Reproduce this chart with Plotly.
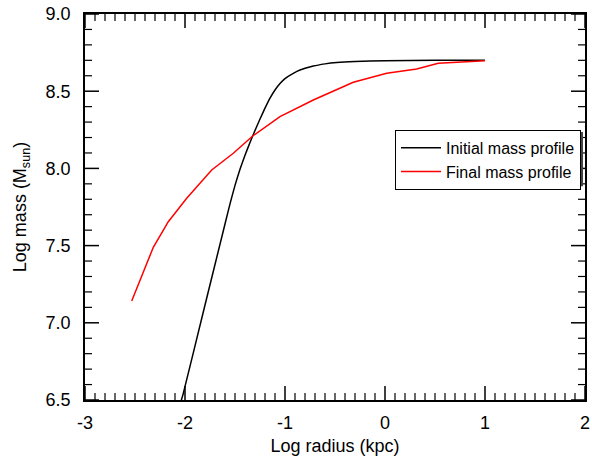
import plotly.graph_objects as go

# Data
init_x = [-2.05, -2.017, -1.8, -1.6, -1.55, -1.5, -1.45, -1.4, -1.35, -1.3, -1.25, -1.2, -1.15, -1.1, -1.05,
          -1.0, -0.917, -0.85, -0.717, -0.6, -0.483, -0.3, 0.0, 0.5, 1.0]
init_y = [6.47, 6.543, 7.115, 7.64, 7.77, 7.89, 7.995, 8.085, 8.168, 8.245, 8.32, 8.39, 8.455, 8.508, 8.55,
          8.582, 8.616, 8.637, 8.663, 8.677, 8.686, 8.693, 8.698, 8.70, 8.70]

final_x = [-2.533, -2.317, -2.167, -1.983, -1.733, -1.517, -1.323, -1.05, -0.717, -0.45, -0.317, 0.017, 0.317, 0.533, 0.75, 1.0]
final_y = [7.141, 7.489, 7.655, 7.806, 7.990, 8.098, 8.210, 8.335, 8.443, 8.523, 8.558, 8.616, 8.644, 8.681, 8.687, 8.698]

x_tickvals = [-3, -2, -1, 0, 1, 2]
x_ticktext = ["-3", "-2", "-1", "0", "1", "2"]
y_tickvals = [6.5, 7.0, 7.5, 8.0, 8.5, 9.0]
y_ticktext = ["6.5", "7.0", "7.5", "8.0", "8.5", "9.0"]
x_range = [-3, 2]
y_range = [6.5, 9.0]
minor_step = 0.1

x_minor = [round(x_range[0] + i * minor_step, 3) for i in range(int(round((x_range[1] - x_range[0]) / minor_step)) + 1)]
y_minor = [round(y_range[0] + i * minor_step, 3) for i in range(int(round((y_range[1] - y_range[0]) / minor_step)) + 1)]

FONT = "Liberation Sans, Arial, Helvetica, sans-serif"
W, H = 592, 456
M = dict(l=85, r=7, t=14, b=56)
PW = W - M["l"] - M["r"]
PH = H - M["t"] - M["b"]
MAJ, MIN = 14, 7  # tick lengths in px

fig = go.Figure()
fig.add_trace(go.Scatter(x=init_x, y=init_y, mode="lines", name="Initial mass profile",
                         line=dict(color="black", width=1.5, shape="spline", smoothing=0.4)))
fig.add_trace(go.Scatter(x=final_x, y=final_y, mode="lines", name="Final mass profile",
                         line=dict(color="red", width=1.5)))

axis_common = dict(showline=True, linecolor="black", linewidth=1.5, mirror=True,
                   ticks="", showgrid=False, zeroline=False, automargin=False,
                   tickfont=dict(family=FONT, size=18, color="black"))

fig.update_xaxes(range=x_range, tickmode="array", tickvals=x_tickvals, ticktext=x_ticktext,
                 ticklabelstandoff=6,
                 title=dict(text="Log radius (kpc)", font=dict(family=FONT, size=18, color="black"), standoff=15),
                 **axis_common)
fig.update_yaxes(range=y_range, tickmode="array", tickvals=y_tickvals, ticktext=y_ticktext,
                 ticklabelstandoff=9,
                 title=dict(text="Log mass (M<sub>sun</sub>)", font=dict(family=FONT, size=18, color="black"), standoff=14),
                 **axis_common)

# inside tick marks on all four sides, positioned through the axes' own scales
shapes = []
line_maj = dict(color="black", width=1.5)
line_min = dict(color="black", width=1.2)
for v in x_minor:
    major = any(abs(v - t) < 1e-9 for t in x_tickvals)
    ln = (MAJ if major else MIN) / PH
    lw = line_maj if major else line_min
    shapes.append(dict(type="line", xref="x", yref="y domain", x0=v, x1=v, y0=0, y1=ln, line=lw, layer="above"))
    shapes.append(dict(type="line", xref="x", yref="y domain", x0=v, x1=v, y0=1, y1=1 - ln, line=lw, layer="above"))
for v in y_minor:
    major = any(abs(v - t) < 1e-9 for t in y_tickvals)
    ln = (MAJ if major else MIN) / PW
    lw = line_maj if major else line_min
    shapes.append(dict(type="line", xref="x domain", yref="y", x0=0, x1=ln, y0=v, y1=v, line=lw, layer="above"))
    shapes.append(dict(type="line", xref="x domain", yref="y", x0=1, x1=1 - ln, y0=v, y1=v, line=lw, layer="above"))

# legend drop shadow
shapes.append(dict(type="rect", xref="paper", yref="paper",
                   x0=0.622, x1=0.996, y0=0.554, y1=0.694,
                   fillcolor="#444444", line=dict(width=0), layer="above"))

fig.update_layout(
    width=W, height=H,
    margin=dict(**M, autoexpand=False),
    paper_bgcolor="white", plot_bgcolor="white",
    font=dict(family=FONT, color="black"),
    showlegend=True,
    legend=dict(x=0.992, y=0.70, xanchor="right", yanchor="top",
                bgcolor="white", bordercolor="black", borderwidth=1,
                font=dict(family=FONT, size=16, color="black"),
                tracegroupgap=0, itemwidth=40),
    shapes=shapes,
)

fig.write_html("out.html")
